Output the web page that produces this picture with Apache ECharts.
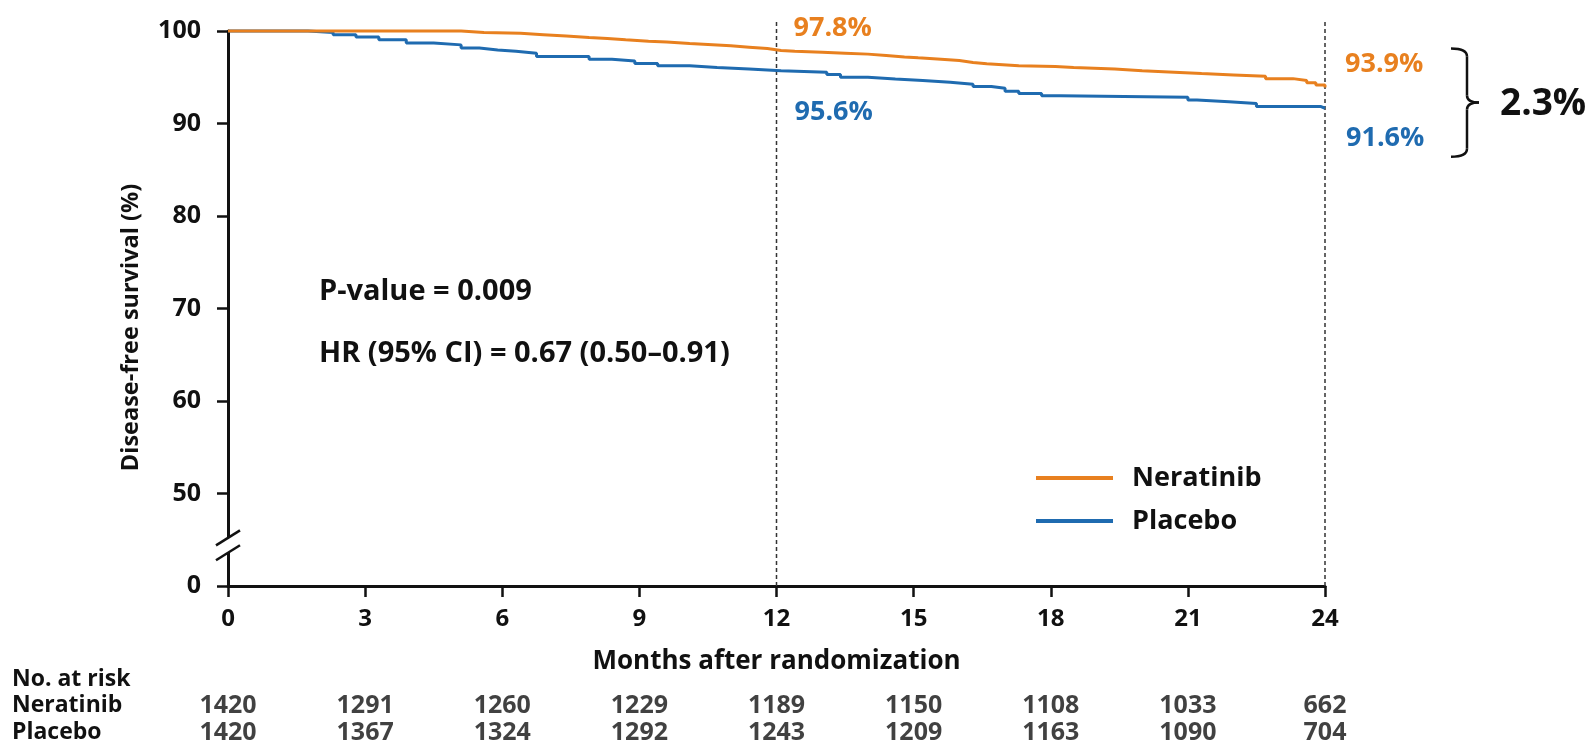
<!DOCTYPE html>
<html><head><meta charset="utf-8">
<script src="https://cdn.jsdelivr.net/npm/echarts@6/dist/echarts.min.js"></script>
<style>html,body{margin:0;padding:0;background:#fff}#c{width:1596px;height:747px}</style>
</head><body><div id="c"></div>
<script>
// ---------- data ----------
const monthTicks = [0, 3, 6, 9, 12, 15, 18, 21, 24];
const seriesNames = ['Neratinib', 'Placebo'];
// Kaplan-Meier step points [month, survival %]
const neratinibCurve = [
  [0,100],[5.1,99.85],[5.6,99.75],[6.4,99.6],[6.9,99.45],[7.4,99.3],[7.9,99.2],[8.3,99.05],
  [8.7,98.9],[9.2,98.8],[9.6,98.65],[10.1,98.55],[10.5,98.4],[11.0,98.25],[11.4,98.1],[11.8,97.9],
  [12.1,97.8],[12.4,97.7],[13.0,97.6],[13.5,97.5],[14.0,97.35],[14.4,97.2],[14.8,97.1],[15.1,96.95],
  [15.6,96.8],[16.0,96.6],[16.3,96.45],[16.6,96.25],[17.3,96.15],[18.1,96.05],[18.5,95.9],[19.4,95.7],
  [20.0,95.55],[20.7,95.4],[21.3,95.25],[22.0,95.1],[22.7,94.85],[23.3,94.65],[23.6,94.4],[23.8,94.15],[24,93.9]
];
const placeboCurve = [
  [0,100],[1.75,99.85],[2.3,99.6],[2.8,99.35],[3.3,99.05],[3.9,98.7],[4.5,98.5],[5.1,98.15],
  [5.5,97.95],[5.9,97.8],[6.3,97.6],[6.75,97.25],[7.9,96.95],[8.4,96.75],[8.9,96.5],[9.4,96.25],
  [10.1,96.05],[10.7,95.9],[11.4,95.7],[12.1,95.55],[13.1,95.3],[13.4,95.0],[14.0,94.8],[14.6,94.65],
  [15.2,94.45],[15.8,94.25],[16.3,94.0],[16.7,93.8],[17.0,93.5],[17.3,93.25],[17.8,93.0],[18.2,92.85],
  [21.0,92.55],[21.2,92.35],[21.9,92.15],[22.5,91.85],[23.9,91.65],[24,91.6]
];
const riskNeratinib = [1420, 1291, 1260, 1229, 1189, 1150, 1108, 1033, 662];
const riskPlacebo   = [1420, 1367, 1324, 1292, 1243, 1209, 1163, 1090, 704];
const landmarkMonths = [12, 24];
const neratinibLandmark = [97.8, 93.9];
const placeboLandmark = [95.6, 91.6];
const differenceText = '2.3%';
const statsText = ['P-value = 0.009', 'HR (95% CI) = 0.67 (0.50\u20130.91)'];
const riskTitle = 'No. at risk';
const yAxisTitle = 'Disease-free survival (%)';
const xAxisTitle = 'Months after randomization';
const yTickValues = [40, 50, 60, 70, 80, 90, 100];
const yTickLabels = ['0', '50', '60', '70', '80', '90', '100']; // axis broken: 0 shown below 50

// ---------- style ----------
const FONT = '"Open Sans", Lato, sans-serif';
const W = 'bold';
const ORANGE = '#E8801F', BLUE = '#1F6BB0', INK = '#111';

const riskData = [];
monthTicks.forEach((m, i) => {
  riskData.push([m, seriesNames[0], riskNeratinib[i]]);
  riskData.push([m, seriesNames[1], riskPlacebo[i]]);
});

const chart = echarts.init(document.getElementById('c'), null, {renderer: 'canvas'});
const option = {
  animation: false,
  backgroundColor: '#fff',
  grid: [
    {left: 228, right: 271, top: 31, bottom: 161},
    {left: 228, right: 271, top: 692, height: 54}
  ],
  xAxis: [{
    gridIndex: 0, type: 'value', min: 0, max: 24, interval: 3,
    axisLine: {show: true, lineStyle: {color: INK, width: 3}},
    axisTick: {show: true, length: 11, lineStyle: {color: INK, width: 2.5}},
    axisLabel: {fontFamily: FONT, fontSize: 24, fontWeight: W, color: INK, margin: 21, showMinLabel: true, showMaxLabel: true},
    splitLine: {show: false},
    name: xAxisTitle, nameLocation: 'middle', nameGap: 63,
    nameTextStyle: {fontFamily: FONT, fontSize: 26, fontWeight: W, color: INK}
  }, {
    gridIndex: 1, type: 'value', min: 0, max: 24, show: false
  }],
  yAxis: [{
    gridIndex: 0, type: 'value', min: 40, max: 100, interval: 10,
    axisLine: {show: true, lineStyle: {color: INK, width: 3}},
    axisTick: {show: true, length: 11, lineStyle: {color: INK, width: 2.5}},
    axisLabel: {fontFamily: FONT, fontSize: 25, fontWeight: W, color: INK, margin: 27, showMinLabel: true, showMaxLabel: true,
      formatter: v => { const k = yTickValues.indexOf(v); return k >= 0 ? yTickLabels[k] : ''; }},
    splitLine: {show: false}
  }, {
    gridIndex: 1, type: 'category', data: seriesNames, inverse: true,
    axisLine: {show: false}, axisTick: {show: false}, splitLine: {show: false},
    axisLabel: {interval: 0, align: 'left', margin: 216, fontFamily: FONT, fontSize: 23, fontWeight: W, color: INK}
  }],
  legend: {
    data: seriesNames, orient: 'vertical', left: 1031, top: 457,
    icon: 'rect', itemWidth: 77, itemHeight: 4, itemGap: 11,
    textStyle: {fontFamily: FONT, fontSize: 27, fontWeight: W, color: INK, lineHeight: 32, padding: [0, 0, 0, 14]}
  },
  series: [{
    name: 'Placebo', type: 'line', xAxisIndex: 0, yAxisIndex: 0, data: placeboCurve,
    step: 'end', showSymbol: false, symbol: 'none', clip: false, z: 2,
    lineStyle: {color: BLUE, width: 3}, itemStyle: {color: BLUE}
  }, {
    name: 'Neratinib', type: 'line', xAxisIndex: 0, yAxisIndex: 0, data: neratinibCurve,
    step: 'end', showSymbol: false, symbol: 'none', clip: false, z: 3,
    lineStyle: {color: ORANGE, width: 3}, itemStyle: {color: ORANGE}
  }, {
    name: 'risk', type: 'scatter', xAxisIndex: 1, yAxisIndex: 1, data: riskData,
    symbolSize: 1, itemStyle: {color: 'rgba(0,0,0,0)'}, silent: true,
    label: {show: true, position: 'inside', formatter: p => String(p.value[2]),
      fontFamily: FONT, fontSize: 25, fontWeight: W, color: INK}
  }]
};
chart.setOption(option);

// ---------- annotations anchored to the coordinate system ----------
const px = (m, v) => chart.convertToPixel({gridIndex: 0}, [m, v]);
const font = size => W + ' ' + size + 'px ' + FONT;
const g = [];
const txt = (x, y, text, size, fill, extra) => g.push(Object.assign({type: 'text', silent: true, z: 10, x, y,
  style: {text, font: font(size), fill, align: 'left', verticalAlign: 'middle'}}, extra || {}));
landmarkMonths.forEach((m, i) => {
  const b = px(m, 40), t = px(m, 100);
  g.push({type: 'line', silent: true, z: 1,
    shape: {x1: b[0], y1: b[1], x2: t[0], y2: t[1] - 11},
    style: {stroke: '#333', lineWidth: 1.5, lineDash: [4, 3]}});
  const pn = px(m, neratinibLandmark[i]);
  const pp = px(m, placeboLandmark[i]);
  txt(pn[0] + (i ? 20 : 17), pn[1] - 23, neratinibLandmark[i].toFixed(1) + '%', 27, ORANGE);
  txt(pp[0] + (i ? 21 : 18), pp[1] + (i ? 30 : 41), placeboLandmark[i].toFixed(1) + '%', 27, BLUE);
});
// bracket for the 24-month difference
{
  const last = landmarkMonths.length - 1;
  const pn = px(landmarkMonths[last], neratinibLandmark[last]);
  const pp = px(landmarkMonths[last], placeboLandmark[last]);
  const top = pn[1] - 39, bot = pp[1] + 48, mid = (top + bot) / 2;
  const xl = pn[0] + 126, xv = pn[0] + 142, xt = pn[0] + 154;
  const st = {stroke: INK, lineWidth: 2.5, fill: null};
  const curve = (x1, y1, cx, cy, x2, y2) => g.push({type: 'bezierCurve', silent: true, z: 10,
    shape: {x1, y1, cpx1: cx, cpy1: cy, x2, y2}, style: st});
  const seg = (x1, y1, x2, y2) => g.push({type: 'line', silent: true, z: 10, shape: {x1, y1, x2, y2}, style: st});
  curve(xl, top, xv, top, xv, top + 8);
  seg(xv, top + 8, xv, mid - 7);
  curve(xv, mid - 7, xv, mid, xt, mid);
  curve(xt, mid, xv, mid, xv, mid + 7);
  seg(xv, mid + 7, xv, bot - 8);
  curve(xv, bot - 8, xv, bot, xl, bot);
  txt(xt + 21, mid + 2, differenceText, 37, INK);
}
// axis break marks
{
  const a = px(0, 45.2), b = px(0, 43.6);
  g.push({type: 'rect', silent: true, z: 20, shape: {x: a[0] - 3, y: a[1], width: 6, height: b[1] - a[1]}, style: {fill: '#fff'}});
  [a, b].forEach(p => g.push({type: 'line', silent: true, z: 21,
    shape: {x1: p[0] - 12, y1: p[1] + 7.5, x2: p[0] + 12, y2: p[1] - 7.5}, style: {stroke: INK, lineWidth: 2.5}}));
}
// y-axis title
{
  const lo = px(0, 40), hi = px(0, 100);
  g.push({type: 'text', silent: true, z: 10, x: lo[0] - 97, y: (lo[1] + hi[1]) / 2 + 19, rotation: Math.PI / 2,
    style: {text: yAxisTitle, font: font(23.5), fill: INK, align: 'center', verticalAlign: 'middle'}});
}
// statistics text
{
  const s1 = px(1.99, 71.85), s2 = px(1.99, 65.1);
  txt(s1[0], s1[1], statsText[0], 29, INK);
  txt(s2[0], s2[1], statsText[1], 29, INK);
}
txt(12, 679, riskTitle, 23, INK);
chart.setOption({graphic: g});
</script></body></html>
